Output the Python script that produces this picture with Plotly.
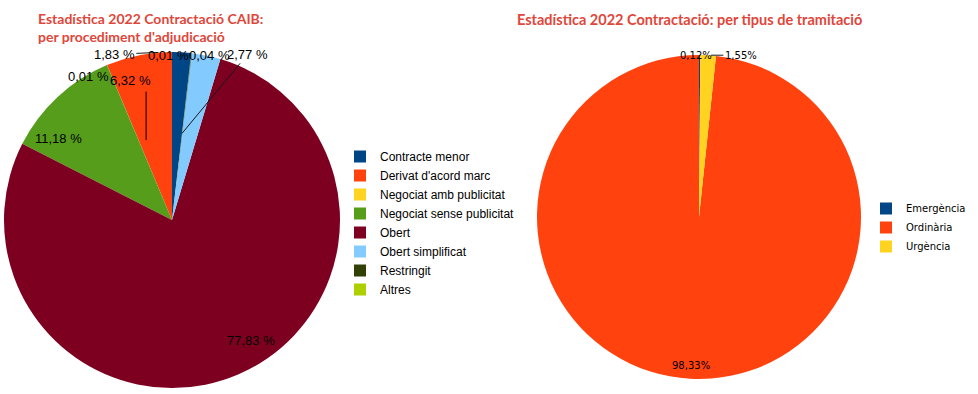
import math
import plotly.graph_objects as go

# ---------------- data ----------------
# Left chart: per procediment d'adjudicació (percent)
proc_labels = ["Contracte menor", "Derivat d'acord marc", "Negociat amb publicitat",
               "Negociat sense publicitat", "Obert", "Obert simplificat", "Restringit", "Altres"]
proc_values = [1.83, 6.32, 0.01, 11.18, 77.83, 2.77, 0.04, 0.01]

# Right chart: per tipus de tramitació (percent)
tram_labels = ["Emergència", "Ordinària", "Urgència"]
tram_values = [0.12, 98.33, 1.55]

title_left = "Estadística 2022 Contractació CAIB:<br>per procediment d'adjudicació"
title_right = "Estadística 2022 Contractació: per tipus de tramitació"

# ---------------- styles ----------------
proc_colors = ["#004586", "#ff420e", "#ffd320", "#579d1c", "#7e0021", "#83caff", "#314004", "#aecf00"]
tram_colors = ["#004586", "#ff420e", "#ffd320"]

W, H = 978, 394
# pie geometry in pixels: centre x, centre y, radius
LEFT = (172, 220, 168)
RIGHT = (699, 217, 162)

# label placement per slice: (radial fraction of anchor, dx px, dy px, draw leader line)
proc_label_style = [
    (1.00, -48, 2, True),    # Contracte menor
    (0.88, 4, 1, False),     # Derivat (text near rim, leader handled below)
    (1.00, -1, 3, False),    # Negociat amb
    (0.84, -6, 10, False),   # Negociat sense
    (0.84, 9, -2, False),    # Obert
    (0.50, 68, -82, True),   # Obert simplificat
    (1.00, 37, 3, False),    # Restringit
    (1.00, -4, 3, False),    # Altres
]
tram_label_style = [
    (1.00, -2, 0, False),    # Emergència
    (0.92, -1, 0, False),    # Ordinària
    (1.00, 34, 0, True),     # Urgència
]


def domain(geom):
    cx, cy, r = geom
    return dict(x=[(cx - r) / W, (cx + r) / W], y=[1 - (cy + r) / H, 1 - (cy - r) / H])


def fmt(v, space=True):
    s = f"{v:.2f}".replace(".", ",")
    return s + (" %" if space else "%")


def slice_labels(values, geom, styles, space, font):
    """Annotations placed at each slice's mid-angle (counterclockwise from 12 o'clock)."""
    cx, cy, r = geom
    total = sum(values)
    out = []
    cum = 0.0
    for v, (fr, dx, dy, arrow) in zip(values, styles):
        mid = 90 + 360 * (cum + v / 2) / total
        cum += v
        px = cx + fr * r * math.cos(math.radians(mid))
        py = cy - fr * r * math.sin(math.radians(mid))
        a = dict(text=fmt(v, space), x=px / W, y=1 - py / H, xref="paper", yref="paper",
                 font=font, xanchor="center", yanchor="middle")
        if arrow:
            a.update(showarrow=True, ax=dx, ay=dy, arrowhead=0, arrowwidth=1,
                     arrowcolor="#1a1a1a", standoff=4)
        else:
            a.update(showarrow=False, xshift=dx, yshift=-dy)
        out.append(a)
    return out


fig = go.Figure()

fig.add_trace(go.Pie(
    labels=proc_labels, values=proc_values, textinfo="none",
    sort=False, direction="counterclockwise", rotation=0,
    marker=dict(colors=proc_colors, line=dict(width=0)),
    domain=domain(LEFT), legend="legend", hoverinfo="label+percent",
))

fig.add_trace(go.Pie(
    labels=tram_labels, values=tram_values, textinfo="none",
    sort=False, direction="counterclockwise", rotation=0,
    marker=dict(colors=tram_colors, line=dict(width=0)),
    domain=domain(RIGHT), legend="legend2", hoverinfo="label+percent",
))

left_font = dict(family="Liberation Sans", size=13, color="#000000")
right_font = dict(family="DejaVu Sans", size=10, color="#000000")

annotations = []
annotations += slice_labels(proc_values, LEFT, proc_label_style, True, left_font)
annotations += slice_labels(tram_values, RIGHT, tram_label_style, False, right_font)

# leader line of the Derivat d'acord marc label (from label towards slice interior)
cx, cy, r = LEFT
cum = sum(proc_values[:1])
mid = 90 + 360 * (cum + proc_values[1] / 2) / sum(proc_values)
ax_px = cx + 0.5 * r * math.cos(math.radians(mid))
ay_px = cy - 0.5 * r * math.sin(math.radians(mid))
annotations.append(dict(text="", x=ax_px / W, y=1 - ay_px / H, xref="paper", yref="paper",
                        showarrow=True, ax=0, ay=-50, arrowhead=0, arrowwidth=1,
                        arrowcolor="#000000"))

title_font = dict(family="Lato", size=14, color="#e0463a")
annotations += [
    dict(text="<b>" + title_left + "</b>", x=36 / W, y=1 - 8 / H, xref="paper", yref="paper",
         xanchor="left", yanchor="top", align="left", showarrow=False, font=title_font),
    dict(text="<b>" + title_right + "</b>", x=515 / W, y=1 - 9 / H, xref="paper", yref="paper",
         xanchor="left", yanchor="top", align="left", showarrow=False,
         font=dict(title_font, size=14.5)),
]

fig.update_layout(
    width=W, height=H,
    margin=dict(l=0, r=0, t=0, b=0, autoexpand=False),
    paper_bgcolor="white", plot_bgcolor="white",
    legend=dict(x=340 / W, y=1 - 142 / H, xanchor="left", yanchor="top",
                font=dict(family="Liberation Sans", size=12, color="#000000"),
                tracegroupgap=0, itemwidth=30, bgcolor="rgba(0,0,0,0)"),
    legend2=dict(x=866 / W, y=1 - 194 / H, xanchor="left", yanchor="top",
                 font=dict(family="DejaVu Sans", size=10, color="#000000"),
                 tracegroupgap=0, itemwidth=30, bgcolor="rgba(0,0,0,0)"),
    annotations=annotations,
)

fig.write_html("out.html", config=dict(displayModeBar=False),
               post_script="document.body.style.margin='0px';")
